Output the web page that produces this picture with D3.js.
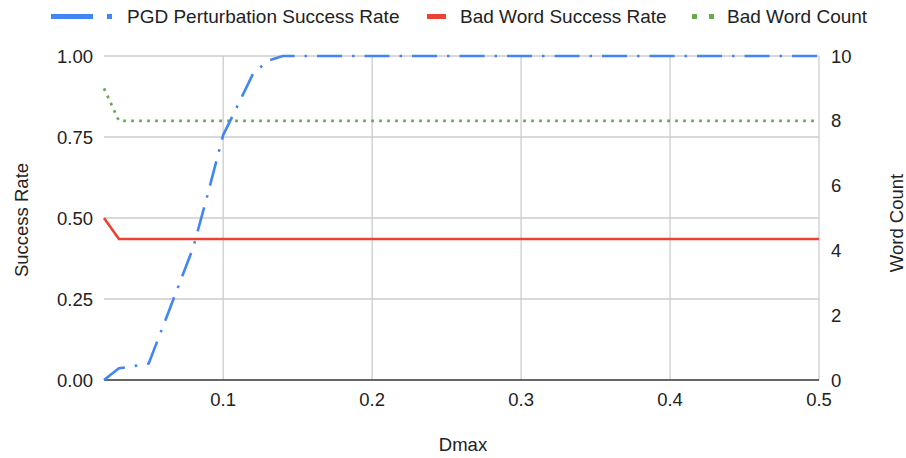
<!DOCTYPE html>
<html><head><meta charset="utf-8">
<script src="https://cdn.jsdelivr.net/npm/d3@7"></script>
<style>
body{margin:0;background:#fff}
text{font-family:"Liberation Sans",Arial,sans-serif;fill:#222}
</style>
</head><body>
<svg id="c" width="906" height="458"></svg>
<script>
const dmax = [0.02,0.03,0.04,0.05,0.06,0.07,0.08,0.09,0.10,0.11,0.12,0.13,0.14,0.2,0.3,0.4,0.5];
const pgdRate = [0,0.036,0.043,0.051,0.17,0.29,0.41,0.58,0.756,0.85,0.945,0.985,1,1,1,1,1];
const badWordRate = [0.5,0.435,0.435,0.435,0.435,0.435,0.435,0.435,0.435,0.435,0.435,0.435,0.435,0.435,0.435,0.435,0.435];
const badWordCount = [9,8,8,8,8,8,8,8,8,8,8,8,8,8,8,8,8];
const xTicks = [0.1,0.2,0.3,0.4,0.5];
const leftTicks = [0,0.25,0.5,0.75,1];
const rightTicks = [0,2,4,6,8,10];
const seriesNames = ["PGD Perturbation Success Rate","Bad Word Success Rate","Bad Word Count"];
const colors = ["#4285f4","#ea4335","#6aa84f"];

const svg = d3.select("#c");
const FS = 18.5, FL = 19;
const x = d3.scaleLinear().domain([0.02,0.5]).range([104,819]);
const yL = d3.scaleLinear().domain([0,1]).range([380,56]);
const yR = d3.scaleLinear().domain([0,10]).range([380,56]);

// gridlines
svg.append("g").selectAll("line").data(leftTicks.filter(d=>d>0)).join("line")
  .attr("x1",x.range()[0]).attr("x2",x.range()[1])
  .attr("y1",d=>yL(d)).attr("y2",d=>yL(d))
  .attr("stroke","#cccccc").attr("stroke-width",1.3);
svg.append("g").selectAll("line").data(xTicks).join("line")
  .attr("x1",d=>x(d)).attr("x2",d=>x(d))
  .attr("y1",yL(0)).attr("y2",yL(1))
  .attr("stroke","#cccccc").attr("stroke-width",1.3);

// axes labels
const fmt2 = d3.format(".2f");
svg.append("g").selectAll("text").data(leftTicks).join("text")
  .attr("x",93).attr("y",d=>yL(d)+6.5).attr("text-anchor","end")
  .style("font-size",FS+"px").text(d=>fmt2(d));
svg.append("g").selectAll("text").data(rightTicks).join("text")
  .attr("x",831).attr("y",d=>yR(d)+6.5).attr("text-anchor","start")
  .style("font-size",FS+"px").text(d=>d);
svg.append("g").selectAll("text").data(xTicks).join("text")
  .attr("x",d=>x(d)).attr("y",405.5).attr("text-anchor","middle")
  .style("font-size",FS+"px").text(d=>d3.format(".1f")(d));

// baseline
svg.append("line").attr("x1",x.range()[0]).attr("x2",x.range()[1])
  .attr("y1",yL(0)).attr("y2",yL(0)).attr("stroke","#333").attr("stroke-width",1.6);

// titles
svg.append("text").attr("transform","translate(28,220) rotate(-90)")
  .attr("text-anchor","middle").style("font-size",FS+"px").text("Success Rate");
svg.append("text").attr("transform","translate(903,223) rotate(-90)")
  .attr("text-anchor","middle").style("font-size",FS+"px").text("Word Count");
svg.append("text").attr("x",463).attr("y",451)
  .attr("text-anchor","middle").style("font-size",FS+"px").text("Dmax");

// lines
const idx = d3.range(dmax.length);
const lineL = vals => d3.line().x(i=>x(dmax[i])).y(i=>yL(vals[i]))(idx);
const lineR = vals => d3.line().x(i=>x(dmax[i])).y(i=>yR(vals[i]))(idx);
svg.append("path").attr("d",lineR(badWordCount)).attr("fill","none")
  .attr("stroke",colors[2]).attr("stroke-width",2.7).attr("stroke-dasharray","2.7,5.3");
svg.append("path").attr("d",lineL(badWordRate)).attr("fill","none")
  .attr("stroke",colors[1]).attr("stroke-width",2.6);
svg.append("path").attr("d",lineL(pgdRate)).attr("fill","none")
  .attr("stroke",colors[0]).attr("stroke-width",2.6).attr("stroke-dasharray","25,10,2.5,10");

// legend
const lg = svg.append("g");
lg.append("rect").attr("x",51).attr("y",14).attr("width",42).attr("height",5).attr("fill",colors[0]);
lg.append("rect").attr("x",107).attr("y",14).attr("width",5).attr("height",5).attr("fill",colors[0]);
lg.append("text").attr("x",127).attr("y",23).style("font-size",FL+"px").text(seriesNames[0]);
lg.append("rect").attr("x",427).attr("y",14).attr("width",19).attr("height",5).attr("fill",colors[1]);
lg.append("text").attr("x",460).attr("y",23).style("font-size",FL+"px").text(seriesNames[1]);
lg.append("rect").attr("x",692).attr("y",14).attr("width",5).attr("height",5).attr("fill",colors[2]);
lg.append("rect").attr("x",709).attr("y",14).attr("width",5).attr("height",5).attr("fill",colors[2]);
lg.append("text").attr("x",727).attr("y",23).style("font-size",FL+"px").text(seriesNames[2]);
</script>
</body></html>
